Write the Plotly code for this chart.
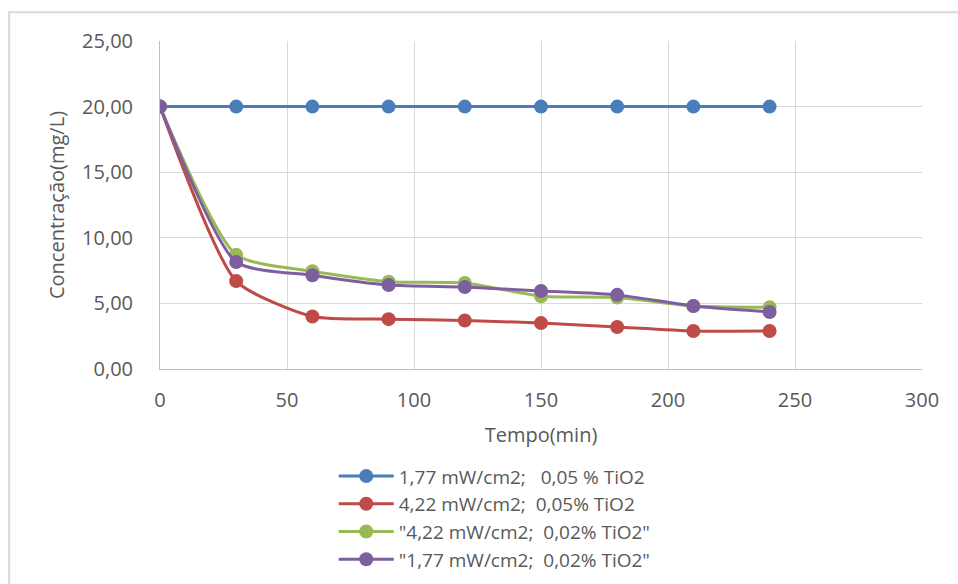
import plotly.graph_objects as go

tempo = [0, 30, 60, 90, 120, 150, 180, 210, 240]
s1_name = "1,77 mW/cm2;   0,05 % TiO2"
s1 = [20.0, 20.0, 20.0, 20.0, 20.0, 20.0, 20.0, 20.0, 20.0]
s2_name = "4,22 mW/cm2;  0,05% TiO2"
s2 = [20.0, 6.7, 4.0, 3.8, 3.7, 3.5, 3.2, 2.9, 2.9]
s3_name = "\"4,22 mW/cm2;  0,02% TiO2\""
s3 = [20.0, 8.7, 7.45, 6.65, 6.55, 5.55, 5.45, 4.8, 4.7]
s4_name = "\"1,77 mW/cm2;  0,02% TiO2\""
s4 = [20.0, 8.15, 7.15, 6.4, 6.25, 5.95, 5.65, 4.8, 4.35]

colors = ["#4a7ebb", "#be4b48", "#98b954", "#7d5fa0"]

fig = go.Figure()
for name, ys, c in [(s1_name, s1, colors[0]), (s2_name, s2, colors[1]),
                    (s3_name, s3, colors[2]), (s4_name, s4, colors[3])]:
    fig.add_trace(go.Scatter(
        x=tempo, y=ys, name=name, mode="lines+markers",
        line=dict(color=c, width=3, shape="spline", smoothing=0.6),
        marker=dict(color=c, size=14),
    ))

font_family = "'Open Sans', sans-serif"
fig.update_layout(
    width=958, height=584,
    margin=dict(l=160, r=36, t=41, b=215, autoexpand=False),
    paper_bgcolor="white", plot_bgcolor="white",
    separators=",.",
    font=dict(family=font_family, color="#595959", size=20),
    showlegend=True,
    legend=dict(x=0.228, y=0.217, xanchor="left", yanchor="top", yref="container",
                font=dict(size=19, color="#595959"),
                tracegroupgap=0, itemwidth=55, bgcolor="rgba(0,0,0,0)"),
    xaxis=dict(range=[0, 300], dtick=50, tick0=0,
               showgrid=True, gridcolor="#d9d9d9", gridwidth=1,
               showline=True, linecolor="#bfbfbf", linewidth=1,
               zeroline=False, ticks="", ticklabelstandoff=13,
               tickfont=dict(size=20),
               title=dict(text="Tempo(min)", font=dict(size=20, color="#595959"), standoff=15),
               mirror=False),
    yaxis=dict(range=[0, 25], dtick=5, tick0=0, tickformat=".2f",
               showgrid=True, gridcolor="#d9d9d9", gridwidth=1,
               showline=True, linecolor="#bfbfbf", linewidth=1,
               zeroline=False, ticks="", ticklabelstandoff=22,
               tickfont=dict(size=20),
               title=dict(text="Concentração(mg/L)", font=dict(size=20, color="#595959"), standoff=12)),
    shapes=[dict(type="rect", xref="paper", yref="paper",
                 x0=-0.198, x1=1.2, y0=-1.0, y1=1.088,
                 line=dict(color="#d9d9d9", width=2), layer="below")],
)

fig.write_html("out.html")
